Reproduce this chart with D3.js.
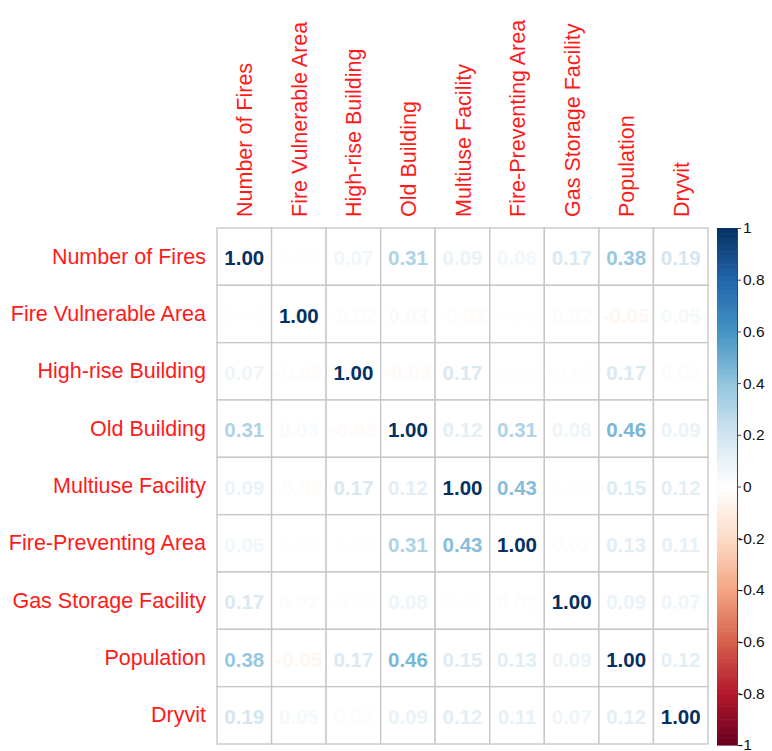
<!DOCTYPE html>
<html><head><meta charset="utf-8">
<script src="https://cdn.jsdelivr.net/npm/d3@7"></script>
<style>html,body{margin:0;padding:0;background:#fff;}svg{display:block;}</style>
</head><body>
<svg id="chart" width="772" height="751"></svg>
<script>
const variables = ["Number of Fires","Fire Vulnerable Area","High-rise Building","Old Building","Multiuse Facility","Fire-Preventing Area","Gas Storage Facility","Population","Dryvit"];
const rowNumberOfFires      = [1.00,-0.004, 0.07, 0.31, 0.09, 0.06, 0.17, 0.38, 0.19];
const rowFireVulnerable     = [-0.004,1.00,-0.02, 0.03,-0.02, 0.01, 0.02,-0.05, 0.05];
const rowHighRise           = [0.07,-0.02, 1.00,-0.03, 0.17, 0.004,-0.01, 0.17, 0.02];
const rowOldBuilding        = [0.31, 0.03,-0.03, 1.00, 0.12, 0.31, 0.08, 0.46, 0.09];
const rowMultiuse           = [0.09,-0.02, 0.17, 0.12, 1.00, 0.43, 0.01, 0.15, 0.12];
const rowFirePreventing     = [0.06, 0.01, 0.004, 0.31, 0.43, 1.00, 0.02, 0.13, 0.11];
const rowGasStorage         = [0.17, 0.02,-0.01, 0.08, 0.01, 0.02, 1.00, 0.09, 0.07];
const rowPopulation         = [0.38,-0.05, 0.17, 0.46, 0.15, 0.13, 0.09, 1.00, 0.12];
const rowDryvit             = [0.19, 0.05, 0.02, 0.09, 0.12, 0.11, 0.07, 0.12, 1.00];
const matrix = [rowNumberOfFires,rowFireVulnerable,rowHighRise,rowOldBuilding,rowMultiuse,rowFirePreventing,rowGasStorage,rowPopulation,rowDryvit];
const legendTicks = [1,0.8,0.6,0.4,0.2,0,-0.2,-0.4,-0.6,-0.8,-1];
const paletteStops = ["#67001F","#B2182B","#D6604D","#F4A582","#FDDBC7","#FFFFFF","#D1E5F0","#92C5DE","#4393C3","#2166AC","#053061"];

const svg = d3.select("#chart");
const gridLeft = 217, gridRight = 708, gridTop = 228, gridBottom = 744;
const x = d3.scaleBand().domain(variables).range([gridLeft, gridRight]);
const y = d3.scaleBand().domain(variables).range([gridTop, gridBottom]);
const color = d3.scaleLinear().domain(d3.range(11).map(i => -1 + i*0.2)).range(paletteStops).interpolate(d3.interpolateRgb);
const fmt = v => (Math.round(v*100)/100).toFixed(2);
const font = "'Liberation Sans', Arial, sans-serif";

const cells = [];
matrix.forEach((row, i) => row.forEach((v, j) => cells.push({r: variables[i], c: variables[j], v})));

// grid cells
svg.append("g").selectAll("rect").data(cells).join("rect")
  .attr("x", d => x(d.c)).attr("y", d => y(d.r))
  .attr("width", x.bandwidth()).attr("height", y.bandwidth())
  .attr("fill", "#fff").attr("stroke", "#C8C8C8").attr("stroke-width", 1.4);

// numbers
svg.append("g").selectAll("text").data(cells).join("text")
  .attr("x", d => x(d.c) + x.bandwidth()/2)
  .attr("y", d => y(d.r) + y.bandwidth()/2 + 1)
  .attr("text-anchor", "middle").attr("dominant-baseline", "central")
  .attr("font-family", font).attr("font-weight", "bold").attr("font-size", 20.5)
  .attr("fill", d => color(d.v))
  .text(d => fmt(d.v));

// row labels
svg.append("g").selectAll("text").data(variables).join("text")
  .attr("x", gridLeft - 11).attr("y", d => y(d) + y.bandwidth()/2)
  .attr("text-anchor", "end").attr("dominant-baseline", "central")
  .attr("font-family", font).attr("font-size", 21.5).attr("fill", "#FF1A1A")
  .text(d => d);

// column labels
svg.append("g").selectAll("text").data(variables).join("text")
  .attr("transform", d => `translate(${x(d) + x.bandwidth()/2 + 8},${gridTop - 11}) rotate(-90)`)
  .attr("text-anchor", "start")
  .attr("font-family", font).attr("font-size", 21.5).attr("fill", "#FF1A1A")
  .text(d => d);

// color legend
const barX = 717, barW = 20, barTop = 228, barBottom = 745;
const ly = d3.scaleLinear().domain([-1, 1]).range([barBottom, barTop]);
const steps = d3.range(200).map(i => -1 + (i + 0.5) * 2/200);
svg.append("g").selectAll("rect").data(steps).join("rect")
  .attr("x", barX).attr("width", barW)
  .attr("y", d => ly(d + 1/200)).attr("height", (barBottom - barTop)/200 + 0.6)
  .attr("fill", d => color(d));

const axis = d3.axisRight(ly).tickValues(legendTicks).tickSize(4).tickSizeOuter(0)
  .tickFormat(d => String(d));
const ag = svg.append("g").attr("transform", `translate(${barX + barW},0)`).call(axis);
ag.select(".domain").attr("stroke", "#444").attr("stroke-width", 1);
ag.selectAll("line").attr("stroke", "#444");
ag.selectAll("text").attr("font-family", font).attr("font-size", 15.5).attr("fill", "#111")
  .attr("x", d => d < 0 ? 1 : 6);
</script>
</body></html>
